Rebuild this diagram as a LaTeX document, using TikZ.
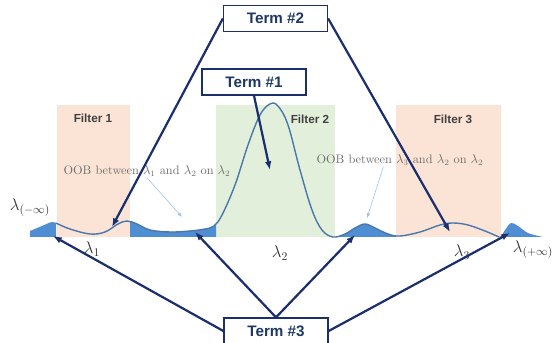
\documentclass[tikz,border=0pt]{standalone}
\usepackage{fontspec}
\setsansfont{Liberation Sans}
\usepackage{amsmath}
\usepackage{tikz}
\usetikzlibrary{arrows.meta,positioning,calc}
\definecolor{termNavy}{HTML}{1B2F6E}
\definecolor{termText}{HTML}{1F3864}
\definecolor{filtOrange}{HTML}{FBE4D6}
\definecolor{filtGreen}{HTML}{E2EFDA}
\definecolor{oobFill}{HTML}{4F8ED2}
\definecolor{specLine}{HTML}{4A78AA}
\definecolor{noteGray}{HTML}{6E6E6E}
\definecolor{noteBlue}{HTML}{9DC3E6}
\definecolor{labGray}{HTML}{404040}

\begin{document}
\begin{tikzpicture}[
    x=0.03cm, y=-0.03cm,
    term/.style={draw=termNavy, line width=1.1pt, fill=white, minimum width=104*0.03cm, minimum height=26*0.03cm, inner sep=0pt, font=\fontsize{13}{15}\selectfont\sffamily\bfseries, text=termText},
    filt/.style={font=\fontsize{10}{12}\selectfont\sffamily\bfseries, text=labGray},
    oob/.style={font=\fontsize{10.5}{12}\selectfont, text=noteGray, inner sep=1pt},
    lam/.style={font=\fontsize{14.5}{16}\selectfont, text=black!80, inner sep=0pt},
    arr/.style={-{Latex[length=2.6mm, width=2mm]}, line width=1.9pt, draw=termNavy},
    thin/.style={-{Latex[length=1.4mm, width=1.1mm]}, line width=0.5pt, draw=noteBlue}
]
\useasboundingbox (0,0) rectangle (554,343);

% filter pass bands
\fill[filtOrange] (57,105) rectangle (130,237);
\fill[filtGreen] (216,105) rectangle (335,237);
\fill[filtOrange] (396,105) rectangle (501,237);

% out-of-band parts of the spectrum
\begin{scope}
\clip (28,190) rectangle (56,238) (130,190) rectangle (216,238)
      (335,190) rectangle (396,238) (499,190) rectangle (546,238);
\fill[oobFill] plot[smooth, tension=0.6] coordinates {
    (30,231) (42,226) (52,222) (58,224) (70,229) (90,234) (105,232) (118,224)
    (127,221) (137,224) (150,230) (170,232) (190,231) (205,229) (214,226)
    (222,215) (235,185) (248,145) (260,115) (270,104) (278,106) (288,125)
    (300,170) (312,210) (322,230) (333,237) (345,234) (355,228) (365,224)
    (375,228) (388,234) (400,236) (420,232) (440,225) (453,223) (468,225)
    (485,231) (499,237) (505,230) (511,223) (518,226) (528,233) (543,237)}
    -- (543,237) -- (30,237) -- cycle;
\end{scope}

% spectrum
\draw[specLine, line width=1.2pt] plot[smooth, tension=0.6] coordinates {
    (56,223) (58,224) (70,229) (90,234) (105,232) (118,224)
    (127,221) (137,224) (150,230) (170,232) (190,231) (205,229) (214,226)
    (222,215) (235,185) (248,145) (260,115) (270,104) (278,106) (288,125)
    (300,170) (312,210) (322,230) (333,237) (345,234) (355,228) (365,224)
    (375,228) (388,234) (400,236) (420,232) (440,225) (453,223) (468,225)
    (485,231) (499,237)};

% labels
\node[filt] (f1) at (93,118) {Filter 1};
\node[filt] (f2) at (310,119) {Filter 2};
\node[filt] (f3) at (453,119) {Filter 3};

\node[oob] (oob1) at (147,171) {OOB between $\lambda_1$ and $\lambda_2$ on $\lambda_2$};
\node[oob] (oob2) at (400,160) {OOB between $\lambda_3$ and $\lambda_2$ on $\lambda_2$};

\node[lam] (lmi) at (30,208) {$\lambda_{(-\infty)}$};
\node[lam] (l1) at (92,249) {$\lambda_1$};
\node[lam] (l2) at (280,253) {$\lambda_2$};
\node[lam] (l3) at (462,252) {$\lambda_3$};
\node[lam] (lpi) at (533,250) {$\lambda_{(+\infty)}$};

\coordinate (n1) at (182,217);
\coordinate (n2) at (367,218);
\draw[thin] (oob1.south) -- (n1);
\draw[thin] ([xshift=-0.5cm]oob2.south) -- (n2);

% terms
\node[term] (term2) at (275.5,18.5) {Term \#2};
\node[term] (term1) at (254,82) {Term \#1};
\node[term] (term3) at (276,331) {Term \#3};

\coordinate (t1) at (270,170);
\coordinate (t2a) at (112,227);
\coordinate (t2b) at (450,232);
\coordinate (t3a) at (53,236);
\coordinate (t3b) at (195,232);
\coordinate (t3c) at (355,235);
\coordinate (t3d) at (510,233);

\draw[arr] (term1.south) -- (t1);
\draw[arr] (term2.west) -- (t2a);
\draw[arr] (term2.east) -- (t2b);
\draw[arr] (term3.west) -- (t3a);
\draw[arr] (term3.north) -- (t3b);
\draw[arr] (term3.north) -- (t3c);
\draw[arr] (term3.east) -- (t3d);
\end{tikzpicture}
\end{document}
